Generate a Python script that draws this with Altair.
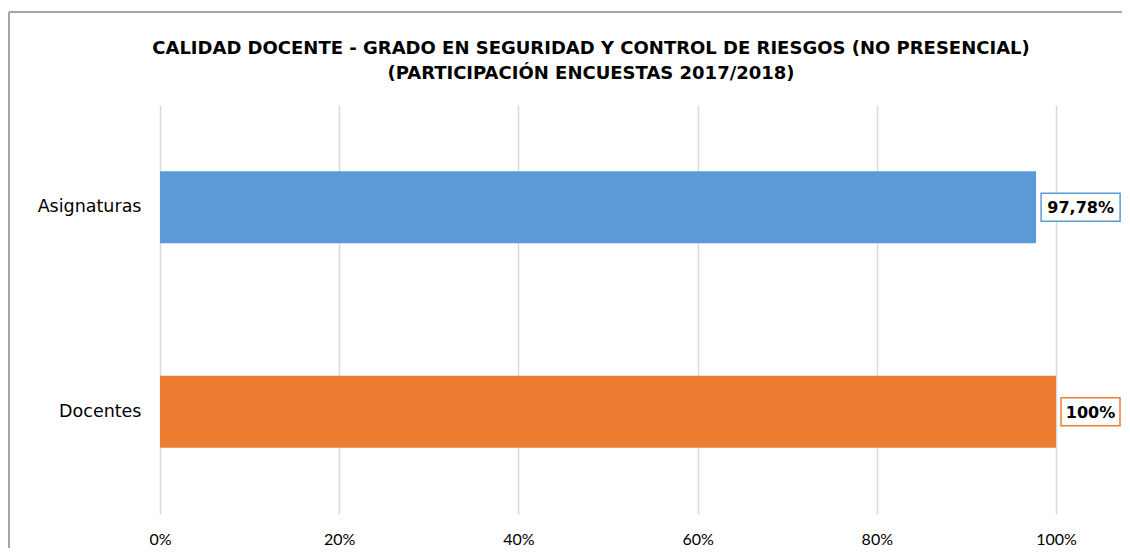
import altair as alt
import pandas as pd

categories = ["Asignaturas", "Docentes"]
values = [0.9778, 1.0]
labels = ["97,78%", "100%"]
colors = ["#5B9BD5", "#ED7D31"]
tick_values = [0, 0.2, 0.4, 0.6, 0.8, 1.0]

df = pd.DataFrame({"categoria": categories, "valor": values, "etiqueta": labels})

W, H = 896, 409
SANS = "DejaVu Sans"
TICKFONT = "Lato"

y_enc = alt.Y("categoria:N", sort=categories,
              scale=alt.Scale(paddingInner=0, paddingOuter=0),
              axis=alt.Axis(title=None, domain=False, ticks=False, labelPadding=19,
                            labelFontSize=17.5, labelColor="#000000", labelFont=SANS))
x_scale = alt.Scale(domain=[0, 1], nice=False)
color_enc = alt.Color("categoria:N", scale=alt.Scale(domain=categories, range=colors), legend=None)

base = alt.Chart(df)

bars = base.mark_bar(height=72).encode(
    x=alt.X("valor:Q", scale=x_scale,
            axis=alt.Axis(title=None, values=tick_values, format=".0%", domain=False, ticks=False,
                          gridColor="#d9d9d9", gridWidth=1.5, labelPadding=17, labelFlush=False,
                          labelFontSize=16, labelColor="#000000", labelFont=TICKFONT)),
    y=y_enc,
    color=color_enc,
)

boxed = base.transform_calculate(
    fin="datum.valor + (10 * length(datum.etiqueta) + 19) / 896",
    medio="datum.valor + (10 * length(datum.etiqueta) + 19) / 1792",
)

boxes = boxed.mark_bar(height=28, fill="white", strokeWidth=1.5, xOffset=5, x2Offset=5).encode(
    x=alt.X("valor:Q", scale=x_scale),
    x2="fin:Q",
    y=y_enc,
    stroke=alt.Stroke("categoria:N", scale=alt.Scale(domain=categories, range=colors), legend=None),
)

texts = boxed.mark_text(fontSize=16, fontWeight="bold", font=SANS, color="#000000",
                        align="center", baseline="middle", dx=5, dy=1).encode(
    x=alt.X("medio:Q", scale=x_scale),
    y=y_enc,
    text="etiqueta:N",
)

frame_v = alt.Chart(df).mark_rule(color="#a6a6a6", strokeWidth=2).encode(
    x=alt.value(-151), y=alt.value(-93), y2=alt.value(460))
frame_h = alt.Chart(df).mark_rule(color="#a6a6a6", strokeWidth=2).encode(
    x=alt.value(-151), x2=alt.value(1000), y=alt.value(-93))

chart = alt.layer(frame_v, frame_h, bars, boxes, texts).properties(
    width=W, height=H,
    title=alt.TitleParams(
        text=["CALIDAD DOCENTE - GRADO EN SEGURIDAD Y CONTROL DE RIESGOS (NO PRESENCIAL)",
              "(PARTICIPACIÓN ENCUESTAS 2017/2018)"],
        font=SANS, fontSize=18, fontWeight="bold", color="#000000",
        anchor="middle", frame="group", dx=-17, offset=-72, lineHeight=25),
    autosize=alt.AutoSizeParams(type="none"),
    padding={"left": 152, "top": 97, "right": 66, "bottom": 34},
).configure(background="white").configure_view(stroke=None)

chart.save("out.html", embed_options={"renderer": "svg", "actions": False})
